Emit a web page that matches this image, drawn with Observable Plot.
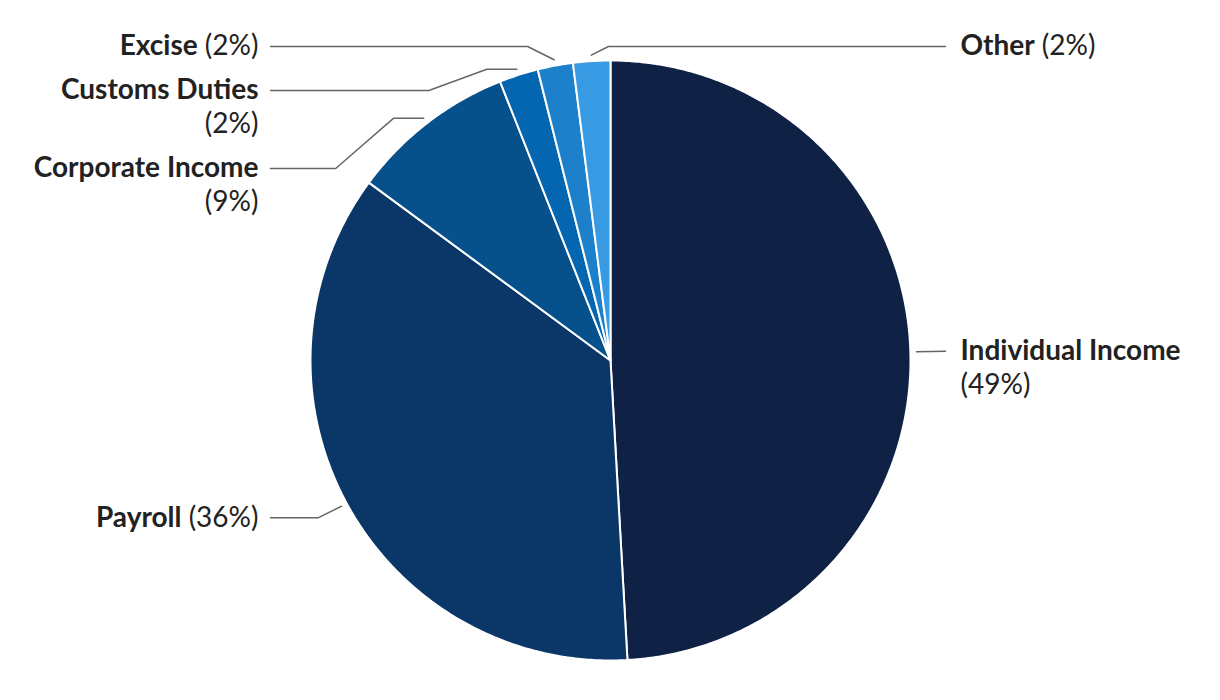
<!DOCTYPE html>
<html>
<head>
<meta charset="utf-8">
<script src="https://cdn.jsdelivr.net/npm/d3@7"></script>
<script src="https://cdn.jsdelivr.net/npm/@observablehq/plot@0.6"></script>
<style>
  html, body { margin: 0; padding: 0; background: #fff; }
  #chart svg { display: block; }
</style>
</head>
<body>
<div id="chart"></div>
<script>
// ---- Data ----
const categories = ["Individual Income", "Payroll", "Corporate Income", "Customs Duties", "Excise", "Other"];
const shares = [49.1, 36.0, 8.9, 2.1, 1.9, 2.0];
const palette = ["#0f2246", "#0a3767", "#06518b", "#0466b0", "#1c80ca", "#389ae3"];

// ---- Layout ----
const W = 1220, H = 700;
const cx = 610, cy = 360, R = 300;
const FS = 28, LINE = 34;
const FONT = "Lato";
const leftTextX = 258, leftLineX = 270;
const rightTextX = 960, rightLineX = 945;
const topY = 46;

const rows = categories.map((c, i) => ({key: c, value: shares[i], color: palette[i], pct: Math.round(shares[i]) + "%"}));
const arcs = d3.pie().sort(null).value(d => d.value)(rows);

// slice polygons
const polys = arcs.flatMap(a => {
  const pts = [{key: a.data.key, color: a.data.color, x: cx, y: cy}];
  const n = Math.max(2, Math.ceil((a.endAngle - a.startAngle) / (Math.PI / 360)));
  for (let i = 0; i <= n; i++) {
    const t = a.startAngle + (a.endAngle - a.startAngle) * i / n;
    pts.push({key: a.data.key, color: a.data.color, x: cx + R * Math.sin(t), y: cy - R * Math.cos(t)});
  }
  return pts;
});

// text measurement
const ctx = document.createElement("canvas").getContext("2d");
function tw(s, bold) { ctx.font = `${bold ? "bold " : ""}${FS}px ${FONT}`; return ctx.measureText(s).width; }
const space = tw(" ", false);

// label layout
const labels = arcs.map(a => {
  const mid = (a.startAngle + a.endAngle) / 2;
  const left = Math.sin(mid) < -0.07;
  const full = tw(a.data.key, true) + space + tw("(" + a.data.pct + ")", false);
  const lines = full > 250 ? 2 : 1;
  return {a, mid, left, lines, ideal: cy - 1.1 * R * Math.cos(mid)};
});
for (const side of [true, false]) {
  const group = labels.filter(l => l.left === side).sort((p, q) => p.ideal - q.ideal);
  let prev = null;
  for (const l of group) {
    let y = Math.max(l.ideal, topY);
    if (prev) y = Math.max(y, prev.y + (prev.lines - 1) * LINE + 44);
    l.y = y;
    prev = l;
  }
}

// leader lines
const leaders = labels.flatMap(l => {
  const k = l.a.data.key;
  const s = l.left ? -1 : 1;
  const tx = cx + 1.02 * R * Math.sin(l.mid), ty = cy - 1.02 * R * Math.cos(l.mid);
  const dy = Math.abs(l.y - ty);
  const pts = [{key: k, x: tx, y: ty}];
  let bx = tx;
  if (dy > 15) { bx = tx + s * 30; pts.push({key: k, x: bx, y: ty}); }
  if (dy > 2) pts.push({key: k, x: bx + s * (dy > 15 ? 58 : Math.max(15, 2 * dy)), y: l.y});
  pts.push({key: k, x: l.left ? leftLineX : rightLineX, y: l.y});
  return pts;
});

// text pieces
const texts = [];
for (const l of labels) {
  const name = l.a.data.key, pct = "(" + l.a.data.pct + ")";
  const anchor = l.left ? "end" : "start";
  const x0 = l.left ? leftTextX : rightTextX;
  if (l.lines === 2) {
    texts.push({t: name, x: x0, y: l.y, bold: true, anchor});
    texts.push({t: pct, x: x0, y: l.y + LINE, bold: false, anchor});
  } else if (l.left) {
    texts.push({t: pct, x: x0, y: l.y, bold: false, anchor});
    texts.push({t: name, x: x0 - tw(pct, false) - space, y: l.y, bold: true, anchor});
  } else {
    texts.push({t: name, x: x0, y: l.y, bold: true, anchor});
    texts.push({t: pct, x: x0 + tw(name, true) + space, y: l.y, bold: false, anchor});
  }
}

const textMark = (bold, anchor) => Plot.text(texts.filter(d => d.bold === bold && d.anchor === anchor), {
  x: "x", y: "y", text: "t", textAnchor: anchor, lineAnchor: "middle",
  fontWeight: bold ? "bold" : "normal", fontSize: FS, fontFamily: FONT, fill: "#222"
});

const chart = Plot.plot({
  width: W, height: H,
  margin: 0,
  style: {background: "#fff", fontFamily: FONT},
  x: {domain: [0, W], range: [0, W], axis: null},
  y: {domain: [0, H], range: [0, H], axis: null},
  color: {type: "identity"},
  marks: [
    Plot.line(polys, {x: "x", y: "y", z: "key", fill: "color", stroke: "#fff", strokeWidth: 2, curve: "linear-closed", strokeLinejoin: "round"}),
    Plot.line(leaders, {x: "x", y: "y", z: "key", stroke: "#666", strokeWidth: 1.5, curve: "linear", strokeLinejoin: "miter"}),
    textMark(true, "end"), textMark(false, "end"), textMark(true, "start"), textMark(false, "start")
  ]
});
document.getElementById("chart").appendChild(chart);
</script>
</body>
</html>
